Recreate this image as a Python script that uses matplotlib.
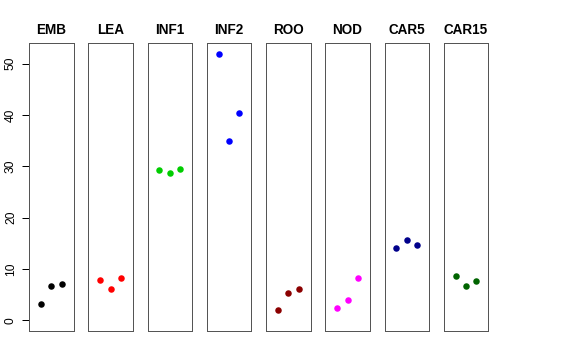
import matplotlib
matplotlib.use("Agg")
import matplotlib.pyplot as plt

plt.rcParams["font.family"] = ["Liberation Sans", "DejaVu Sans"]

# 各组织三次重复的测量值
groups = ["EMB", "LEA", "INF1", "INF2", "ROO", "NOD", "CAR5", "CAR15"]
emb = [3.1, 6.6, 7.0]
lea = [7.9, 6.2, 8.2]
inf1 = [29.2, 28.7, 29.4]
inf2 = [51.9, 35.0, 40.4]
roo = [2.1, 5.3, 6.1]
nod = [2.4, 3.9, 8.3]
car5 = [14.0, 15.6, 14.6]
car15 = [8.6, 6.6, 7.7]
values = [emb, lea, inf1, inf2, roo, nod, car5, car15]
colors = ["black", "red", "#00CD00", "blue", "#8B0000", "magenta", "#00008B", "#006400"]
yticks = [0, 10, 20, 30, 40, 50]

W, H = 576, 360
fig = plt.figure(figsize=(W / 72, H / 72), dpi=72)

ymax = max(max(v) for v in values)
ylo, yhi = 0 - 0.04 * ymax, ymax * 1.04

top, bottom = 43.3, 331
pw = 44.5
for i, (name, vals, col) in enumerate(zip(groups, values, colors)):
    left = 29 + i * 59.25
    ax = fig.add_axes([left / W, (H - bottom) / H, pw / W, (bottom - top) / H])
    ax.plot(range(1, len(vals) + 1), vals, "o", color=col, markersize=6.5, markeredgewidth=0)
    ax.set_xlim(-0.16, 4.16)
    ax.set_ylim(ylo, yhi)
    ax.set_xticks([])
    for s in ax.spines.values():
        s.set_color("#555555")
        s.set_linewidth(1)
    ax.set_title(name, fontsize=13.5, fontweight="bold", pad=9)
    if i == 0:
        ax.set_yticks(yticks)
        ax.set_yticklabels([str(t) for t in yticks], rotation=90, va="center", fontsize=12)
        ax.tick_params(axis="y", length=7, width=1, pad=5)
    else:
        ax.set_yticks([])

fig.savefig("out.png", dpi=72)
